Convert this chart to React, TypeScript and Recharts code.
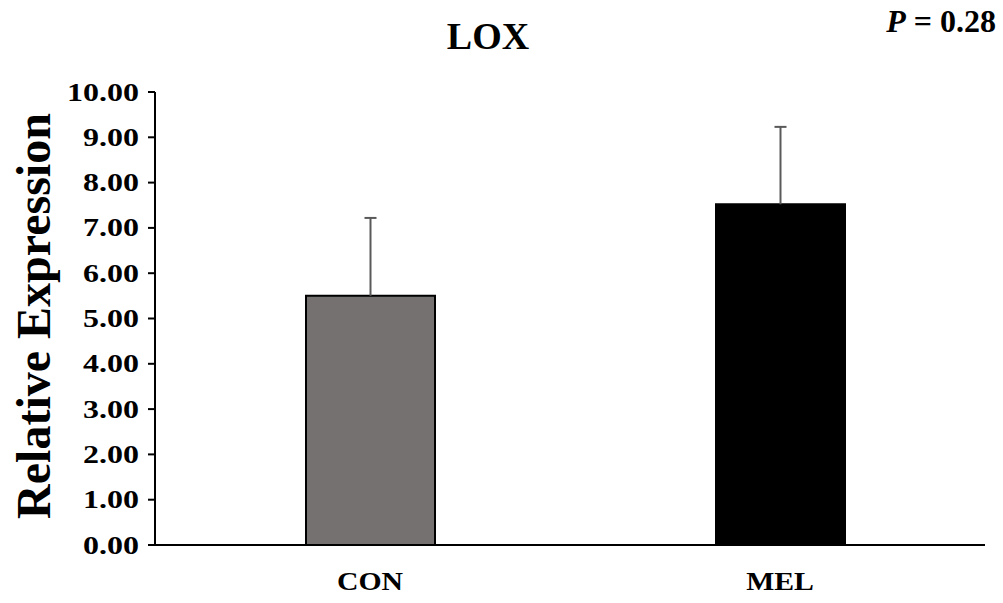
import React from 'react'
import { BarChart, Bar, XAxis, YAxis, Cell } from 'recharts'

const groups = ['CON', 'MEL']
const means = [5.5, 7.52]
const errUp = [1.72, 1.71]
const barColors = ['#767171', '#000000']
const yTicks = [0, 1, 2, 3, 4, 5, 6, 7, 8, 9, 10]

const data = groups.map((g, i) => ({ name: g, value: means[i], err: errUp[i] }))

const serif = '"Times New Roman", "Liberation Serif", serif'

// the original tick labels are a bit wider than plain Times, so stretch them horizontally
const YTick = (props: any) => {
  const { x, y, payload } = props
  return (
    <g transform={`translate(${x},${y + 8.5})`}>
      <text transform="scale(1.28,1)" textAnchor="end" fontFamily={serif} fontWeight="bold" fontSize={25} fill="#000">
        {Number(payload.value).toFixed(2)}
      </text>
    </g>
  )
}

const XTick = (props: any) => {
  const { x, y, payload } = props
  return (
    <g transform={`translate(${x},${y + 43})`}>
      <text transform="scale(1.19,1)" textAnchor="middle" fontFamily={serif} fontWeight="bold" fontSize={25} fill="#000">
        {payload.value}
      </text>
    </g>
  )
}

const YLabel = () => (
  <text
    transform="translate(50,316) rotate(-90)"
    textAnchor="middle"
    fontFamily={serif}
    fontWeight="bold"
    fontSize={48}
    fill="#000"
  >
    Relative Expression
  </text>
)

// upper-only error bar drawn in the stacked segment above each mean
const ErrShape = (props: any) => {
  const { x, y, width, height } = props
  const cx = x + width / 2
  return (
    <g stroke="#595959" strokeWidth={2}>
      <line x1={cx} x2={cx} y1={y + height} y2={y} />
      <line x1={cx - 6} x2={cx + 6} y1={y} y2={y} />
    </g>
  )
}

export default function App() {
  return (
    <div style={{ position: 'absolute', left: 0, top: 0, width: 1003, height: 603, background: '#fff' }}>
      <div
        style={{
          position: 'absolute', left: 388, width: 200, top: 14, textAlign: 'center',
          fontFamily: serif, fontWeight: 'bold', fontSize: 38, lineHeight: '44px'
        }}
      >
        LOX
      </div>
      <div
        style={{
          position: 'absolute', right: 7, top: 2, fontFamily: serif, fontWeight: 'bold',
          fontSize: 32, lineHeight: '38px', whiteSpace: 'nowrap'
        }}
      >
        <i>P</i> = 0.28
      </div>
      <BarChart
        width={1003}
        height={603}
        data={data}
        margin={{ top: 92, right: 18, left: 0, bottom: 0 }}
        barSize={129}
      >
        <XAxis
          dataKey="name"
          height={58}
          tickLine={false}
          tickSize={0}
          tick={<XTick />}
          axisLine={{ stroke: '#000', strokeWidth: 2 }}
          padding={{ left: 10, right: 0 }}
        />
        <YAxis
          width={155}
          domain={[0, 10]}
          ticks={yTicks}
          interval={0}
          tickSize={7}
          tickMargin={9}
          tick={<YTick />}
          tickLine={{ stroke: '#000', strokeWidth: 2 }}
          axisLine={{ stroke: '#000', strokeWidth: 2 }}
          label={<YLabel />}
        />
        <Bar dataKey="value" stackId="a" stroke="#000" strokeWidth={2} isAnimationActive={false}>
          {data.map((d, i) => (
            <Cell key={d.name} fill={barColors[i]} />
          ))}
        </Bar>
        <Bar dataKey="err" stackId="a" shape={<ErrShape />} isAnimationActive={false} />
      </BarChart>
    </div>
  )
}
